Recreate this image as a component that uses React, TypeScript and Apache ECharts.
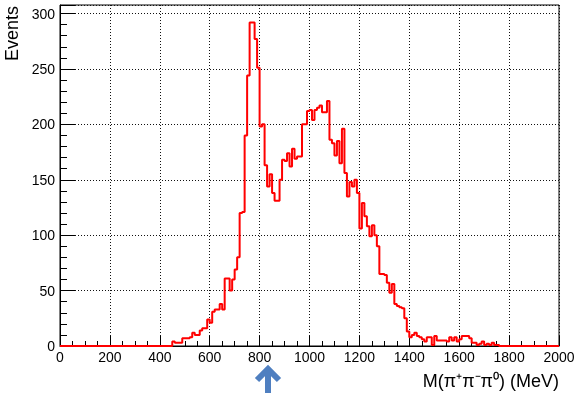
import React, { useEffect, useRef } from "react";
import * as echarts from "echarts";

// Histogram: 200 bins of 10 MeV from 0 to 2000 MeV
const binStart = 0;
const binWidth = 10;
const counts: number[] = [
  // 0 - 440 MeV
  0, 0, 0, 0, 0, 0, 0, 0, 0, 0,
  0, 0, 0, 0, 0, 0, 0, 0, 0, 0,
  0, 0, 0, 0, 0, 0, 0, 0, 0, 0,
  0, 0, 0, 0, 0, 0, 0, 0, 0, 0,
  0, 0, 0, 0, 0,
  // 450 - 790 MeV
  4, 3, 3, 3, 7, 7, 7, 8, 12, 10,
  10, 14, 16, 16, 24, 21, 31, 33, 33, 38,
  33, 61, 61, 50, 60, 69, 80, 120, 121, 190,
  244, 292, 292, 277, 251,
  // 800 - 1190 MeV
  198, 200, 163, 144, 155, 138, 131, 131, 150, 168,
  167, 174, 162, 178, 169, 171, 171, 200, 200, 212,
  213, 204, 213, 215, 217, 211, 211, 221, 186, 183,
  172, 185, 165, 196, 156, 135, 148, 144, 150, 138,
  // 1200 - 1590 MeV
  106, 129, 117, 108, 99, 109, 100, 90, 65, 65,
  64, 57, 48, 56, 38, 36, 35, 34, 25, 13,
  8, 10, 12, 9, 8, 6, 4, 8, 8, 1,
  9, 5, 5, 5, 5, 4, 8, 5, 8, 4,
  // 1600 - 1990 MeV
  6, 9, 9, 9, 7, 3, 3, 1, 2, 4,
  1, 2, 1, 3, 1, 1, 0, 0, 0, 0,
  0, 0, 0, 0, 0, 0, 0, 0, 0, 0,
  0, 0, 0, 0, 0, 0, 0, 0, 0, 0,
];

const xTitle = "M(π⁺π⁻π⁰) (MeV)";
const yTitle = "Events";
const xMin = 0;
const xMax = 2000;
const xInterval = 200;
const yMin = 0;
const yMax = 307.7;
const yInterval = 50;

const FONT = "'Liberation Sans', Arial, Helvetica, sans-serif";

export default function App() {
  const ref = useRef<HTMLDivElement>(null);

  useEffect(() => {
    if (!ref.current) return;
    const chart = echarts.init(ref.current, undefined, { renderer: "svg" });

    const data: number[][] = counts.map((c, i) => [binStart + i * binWidth, c]);
    data.push([binStart + counts.length * binWidth, counts[counts.length - 1]]);

    const arrowColor = "#4f7fc0";

    const option: any = {
      animation: false,
      grid: {
        left: 60,
        right: 23,
        top: 5,
        bottom: 47,
        show: true,
        borderColor: "#000",
        borderWidth: 1,
        backgroundColor: "transparent",
      },
      xAxis: {
        type: "value",
        min: xMin,
        max: xMax,
        interval: xInterval,
        axisLine: { show: true, onZero: false, lineStyle: { color: "#000", width: 1 } },
        axisTick: { show: true, inside: true, length: 10, lineStyle: { color: "#000", width: 1 } },
        minorTick: { show: true, splitNumber: 4, length: 5, lineStyle: { color: "#000", width: 1 } },
        splitLine: { show: true, lineStyle: { color: "#111", type: [1, 2], width: 1 } },
        axisLabel: {
          margin: 4,
          fontSize: 14,
          color: "#000",
          fontFamily: FONT,
          formatter: (v: number) => String(v),
        },
      },
      yAxis: {
        type: "value",
        min: yMin,
        max: yMax,
        interval: yInterval,
        axisLine: { show: true, onZero: false, lineStyle: { color: "#000", width: 1 } },
        axisTick: { show: true, inside: true, length: 15, lineStyle: { color: "#000", width: 1 } },
        minorTick: { show: true, splitNumber: 5, length: 7, lineStyle: { color: "#000", width: 1 } },
        splitLine: { show: true, lineStyle: { color: "#111", type: [1, 2], width: 1 } },
        axisLabel: {
          margin: 5,
          fontSize: 14,
          color: "#000",
          fontFamily: FONT,
          formatter: (v: number) => (Math.abs(v % yInterval) < 1e-6 ? String(v) : ""),
        },
      },
      series: [
        {
          type: "line",
          step: "end",
          data,
          symbol: "none",
          showSymbol: false,
          clip: false,
          z: 5,
          lineStyle: { color: "#ff0000", width: 2 },
        },
      ],
      graphic: [
        {
          type: "text",
          x: 12,
          y: 6,
          rotation: Math.PI / 2,
          style: {
            text: yTitle,
            align: "right",
            verticalAlign: "middle",
            fontSize: 18,
            fontFamily: FONT,
            fill: "#000",
          },
        },
        {
          type: "text",
          x: 559,
          y: 381,
          style: {
            text: xTitle,
            align: "right",
            verticalAlign: "middle",
            fontSize: 18,
            fontFamily: FONT,
            fill: "#000",
          },
        },
        {
          type: "polyline",
          shape: { points: [[257, 380], [268, 369], [279, 380]] },
          style: { stroke: arrowColor, lineWidth: 6, fill: "none", lineJoin: "miter" },
        },
        {
          type: "line",
          shape: { x1: 268, y1: 369, x2: 268, y2: 393 },
          style: { stroke: arrowColor, lineWidth: 6 },
        },
      ],
    };

    chart.setOption(option);
    return () => chart.dispose();
  }, []);

  return (
    <div
      ref={ref}
      style={{ position: "fixed", left: 0, top: 0, width: 582, height: 393 }}
    />
  );
}
